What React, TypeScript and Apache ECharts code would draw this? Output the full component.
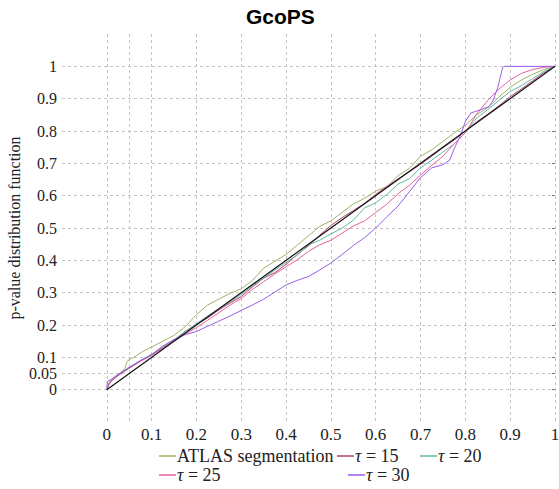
import React, { useEffect, useRef } from "react";
import * as echarts from "echarts";

const chartTitle = "GcoPS";
const yAxisName = "p-value distribution function";
const xTickValues = [0, 0.1, 0.2, 0.3, 0.4, 0.5, 0.6, 0.7, 0.8, 0.9, 1];
const yMainLabelValues = [0, 0.1, 0.2, 0.3, 0.4, 0.5, 0.6, 0.7, 0.8, 0.9, 1];
const yExtraLabelValues = [0.05];
const yGridValues = [0, 0.05, 0.1, 0.2, 0.3, 0.4, 0.5, 0.6, 0.7, 0.8, 0.9, 1];
const xGridValues = [0, 0.05, 0.1, 0.2, 0.3, 0.4, 0.5, 0.6, 0.7, 0.8, 0.9, 1];
const seriesNames = ["ATLAS segmentation", "τ = 15", "τ = 20", "τ = 25", "τ = 30"];
const seriesColors = ["#a3b065", "#b3406c", "#62b8a2", "#e5609c", "#9b5de8"];

const atlas = [
  [0, 0], [0.005, 0.02], [0.01, 0.03], [0.02, 0.04], [0.03, 0.052], [0.04, 0.065],
  [0.045, 0.087], [0.05, 0.093], [0.06, 0.1], [0.08, 0.118], [0.1, 0.132], [0.125, 0.15],
  [0.15, 0.168], [0.175, 0.195], [0.2, 0.232], [0.225, 0.262], [0.25, 0.28], [0.275, 0.298],
  [0.3, 0.312], [0.325, 0.338], [0.35, 0.376], [0.375, 0.397], [0.4, 0.418], [0.425, 0.447],
  [0.45, 0.476], [0.475, 0.505], [0.5, 0.522], [0.525, 0.548], [0.55, 0.574], [0.575, 0.592],
  [0.6, 0.614], [0.625, 0.628], [0.65, 0.662], [0.675, 0.684], [0.7, 0.722], [0.725, 0.742],
  [0.75, 0.768], [0.775, 0.794], [0.8, 0.818], [0.825, 0.85], [0.85, 0.872], [0.875, 0.905],
  [0.9, 0.935], [0.925, 0.958], [0.95, 0.975], [0.975, 0.99], [1, 1],
];

const tau15 = [
  [0, 0], [0.005, 0.018], [0.01, 0.027], [0.02, 0.038], [0.03, 0.048], [0.05, 0.066],
  [0.075, 0.088], [0.1, 0.108], [0.125, 0.13], [0.15, 0.152], [0.175, 0.18], [0.2, 0.203],
  [0.225, 0.222], [0.25, 0.247], [0.275, 0.268], [0.3, 0.288], [0.325, 0.318], [0.35, 0.345],
  [0.375, 0.362], [0.4, 0.388], [0.425, 0.418], [0.45, 0.445], [0.475, 0.478], [0.5, 0.508],
  [0.525, 0.532], [0.55, 0.554], [0.575, 0.576], [0.6, 0.604], [0.625, 0.628], [0.65, 0.652],
  [0.675, 0.674], [0.7, 0.697], [0.725, 0.722], [0.75, 0.748], [0.775, 0.772], [0.8, 0.8],
  [0.825, 0.828], [0.85, 0.852], [0.875, 0.878], [0.9, 0.906], [0.925, 0.93], [0.95, 0.955],
  [0.975, 0.98], [1, 1],
];

const tau20 = [
  [0, 0], [0.005, 0.02], [0.01, 0.03], [0.02, 0.042], [0.03, 0.052], [0.05, 0.07],
  [0.075, 0.09], [0.1, 0.11], [0.125, 0.132], [0.15, 0.155], [0.175, 0.18], [0.2, 0.204],
  [0.225, 0.228], [0.25, 0.25], [0.275, 0.272], [0.3, 0.294], [0.325, 0.322], [0.35, 0.345],
  [0.375, 0.37], [0.4, 0.394], [0.425, 0.416], [0.45, 0.448], [0.475, 0.462], [0.5, 0.482],
  [0.525, 0.5], [0.55, 0.524], [0.575, 0.562], [0.6, 0.578], [0.625, 0.604], [0.65, 0.636],
  [0.675, 0.652], [0.7, 0.686], [0.725, 0.71], [0.75, 0.735], [0.775, 0.76], [0.8, 0.795],
  [0.825, 0.84], [0.85, 0.866], [0.875, 0.895], [0.9, 0.922], [0.925, 0.94], [0.95, 0.962],
  [0.975, 0.984], [1, 1],
];

const tau25 = [
  [0, 0], [0.005, 0.016], [0.01, 0.026], [0.02, 0.04], [0.03, 0.05], [0.05, 0.068],
  [0.075, 0.088], [0.1, 0.106], [0.125, 0.128], [0.15, 0.15], [0.175, 0.172], [0.2, 0.192],
  [0.225, 0.215], [0.25, 0.238], [0.275, 0.262], [0.3, 0.282], [0.325, 0.31], [0.35, 0.334],
  [0.375, 0.358], [0.4, 0.38], [0.425, 0.402], [0.45, 0.428], [0.475, 0.448], [0.5, 0.462],
  [0.525, 0.484], [0.55, 0.506], [0.575, 0.522], [0.6, 0.548], [0.625, 0.574], [0.65, 0.606],
  [0.675, 0.632], [0.7, 0.664], [0.725, 0.694], [0.75, 0.722], [0.775, 0.76], [0.8, 0.795],
  [0.825, 0.852], [0.85, 0.895], [0.875, 0.93], [0.9, 0.958], [0.925, 0.978], [0.95, 0.99],
  [0.975, 0.997], [1, 1],
];

const tau30 = [
  [0, 0], [0.001, 0.025], [0.01, 0.032], [0.02, 0.042], [0.03, 0.05], [0.05, 0.068],
  [0.075, 0.09], [0.1, 0.108], [0.125, 0.135], [0.15, 0.155], [0.175, 0.17], [0.2, 0.18],
  [0.225, 0.196], [0.25, 0.212], [0.275, 0.228], [0.3, 0.245], [0.325, 0.262], [0.35, 0.28],
  [0.375, 0.302], [0.4, 0.324], [0.425, 0.338], [0.45, 0.35], [0.475, 0.37], [0.5, 0.392],
  [0.525, 0.418], [0.55, 0.446], [0.575, 0.47], [0.6, 0.5], [0.625, 0.535], [0.65, 0.568],
  [0.675, 0.612], [0.7, 0.656], [0.725, 0.686], [0.75, 0.696], [0.765, 0.71], [0.775, 0.745],
  [0.79, 0.789], [0.8, 0.83], [0.8125, 0.856], [0.835, 0.866], [0.853, 0.876], [0.861, 0.892],
  [0.872, 0.933], [0.883, 0.995], [0.886, 1], [1, 1],
];

const diagonal = [[0, 0], [1, 1]];

const seriesData = [atlas, tau15, tau20, tau25, tau30];

// legend item placement (icon left edge, top)
const legendSlots = [
  [159, 447], [337, 447], [420, 447], [159, 466], [348, 466],
];

const SERIF = "'Liberation Serif', 'DejaVu Serif', serif";

function fmt(v: number) {
  return String(v);
}

export default function App() {
  const ref = useRef<HTMLDivElement>(null);
  useEffect(() => {
    if (!ref.current) return;
    const chart = echarts.init(ref.current, undefined, { renderer: "svg" });
    const gridStyle = { color: "#c4c4c4", type: [3, 3] as any, width: 1 };
    const yLabelStyle = {
      formatter: (v: number) => fmt(v),
      fontFamily: SERIF,
      fontSize: 16,
      lineHeight: 13,
      color: "#222",
      margin: 5,
      showMinLabel: true,
      showMaxLabel: true,
      hideOverlap: false,
    };
    const option: any = {
      animation: false,
      backgroundColor: "#ffffff",
      title: {
        text: chartTitle,
        left: 246,
        top: 6,
        padding: 0,
        textStyle: {
          fontFamily: "'Liberation Sans', Arial, sans-serif",
          fontWeight: "bold",
          fontSize: 21,
          color: "#000",
        },
      },
      legend: seriesNames.map((n, i) => ({
        data: [n],
        left: legendSlots[i][0],
        top: legendSlots[i][1],
        padding: 0,
        icon: "rect",
        itemWidth: 17,
        itemHeight: 1.5,
        itemGap: 0,
        selectedMode: false,
        formatter: (name: string) =>
          name.startsWith("τ") ? `{i|τ} = ${name.slice(4)}` : name,
        textStyle: {
          fontFamily: SERIF,
          fontSize: 18,
          color: "#222",
          padding: [0, 0, 0, -4],
          rich: {
            i: { fontFamily: SERIF, fontStyle: "italic", fontSize: 18, color: "#222" },
          },
        },
      })),
      grid: {
        left: 62,
        right: 4,
        top: 34,
        bottom: 67,
        containLabel: false,
        outerBoundsMode: "none",
      },
      xAxis: {
        type: "value",
        min: -0.1,
        max: 1,
        axisLine: { show: false },
        axisTick: { show: false, customValues: xGridValues },
        splitLine: { show: true, lineStyle: gridStyle },
        axisLabel: {
          customValues: xTickValues,
          formatter: (v: number) => fmt(v),
          fontFamily: SERIF,
          fontSize: 17,
          color: "#222",
          margin: 4,
          showMinLabel: true,
          showMaxLabel: true,
        },
      },
      yAxis: [
        {
          type: "value",
          min: -0.1,
          max: 1.1,
          name: yAxisName,
          nameLocation: "middle",
          nameGap: 40,
          nameTextStyle: { fontFamily: SERIF, fontSize: 16, color: "#222" },
          axisLine: { show: false },
          axisTick: { show: false, customValues: yGridValues },
          splitLine: { show: true, lineStyle: gridStyle },
          axisLabel: { ...yLabelStyle, customValues: yMainLabelValues },
        },
        {
          type: "value",
          min: -0.1,
          max: 1.1,
          position: "left",
          offset: 0,
          axisLine: { show: false },
          axisTick: { show: false },
          splitLine: { show: false },
          axisLabel: { ...yLabelStyle, customValues: yExtraLabelValues },
        },
        {
          type: "value",
          min: -0.1,
          max: 1.1,
          position: "right",
          axisLine: { show: false },
          axisLabel: { show: false },
          splitLine: { show: false },
          axisTick: {
            show: true,
            inside: true,
            length: 3,
            customValues: yGridValues,
            lineStyle: { color: "#777", width: 1 },
          },
        },
      ],
      series: [
        ...seriesNames.map((n, i) => ({
          name: n,
          type: "line",
          data: seriesData[i],
          symbol: "none",
          color: seriesColors[i],
          lineStyle: { width: 1, color: seriesColors[i] },
          z: 3,
          silent: true,
        })),
        {
          name: "__diag",
          type: "line",
          data: diagonal,
          symbol: "none",
          lineStyle: { width: 1.2, color: "#111" },
          z: 4,
          silent: true,
        },
      ],
    };
    chart.setOption(option);
    return () => chart.dispose();
  }, []);
  return (
    <div
      ref={ref}
      style={{ position: "fixed", left: 0, top: 0, width: 559, height: 489 }}
    />
  );
}
